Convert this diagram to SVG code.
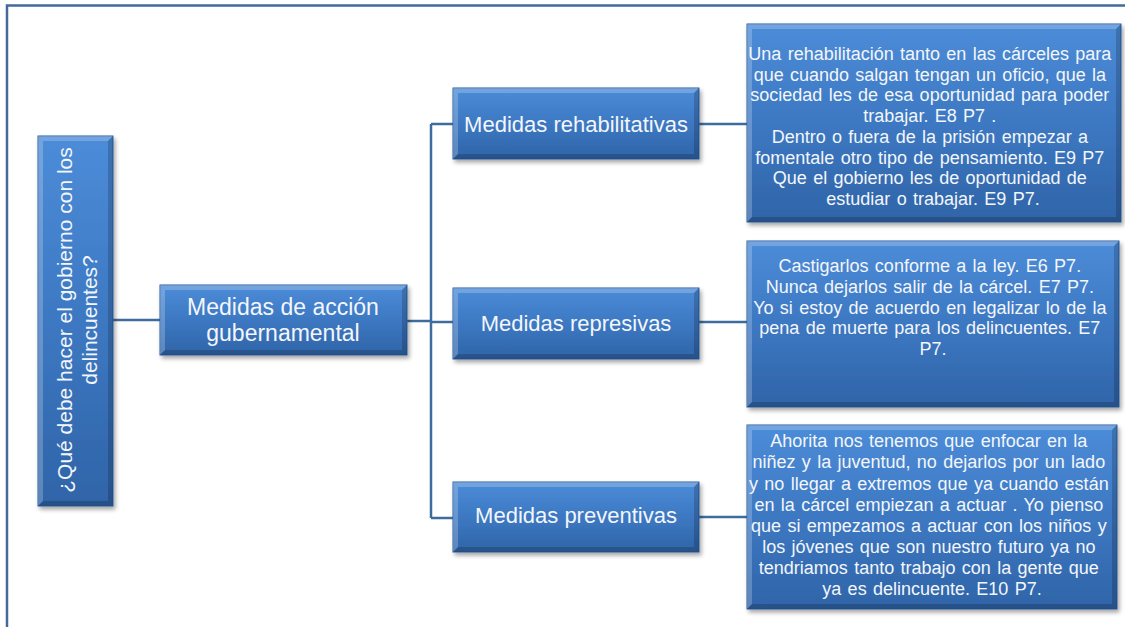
<svg xmlns="http://www.w3.org/2000/svg" width="1125" height="627" viewBox="0 0 1125 627">
<defs>
<linearGradient id="g" x1="0" y1="0" x2="0" y2="1">
<stop offset="0" stop-color="#4c8cd8"/>
<stop offset="0.5" stop-color="#3d78c2"/>
<stop offset="1" stop-color="#2f64a8"/>
</linearGradient>
<filter id="sh" x="-10%" y="-10%" width="125%" height="130%">
<feDropShadow dx="2" dy="3" stdDeviation="2" flood-color="#000" flood-opacity="0.35"/>
</filter>
</defs>
<style>
.box{fill:url(#g);stroke:#2d5f9e;stroke-width:1;filter:url(#sh)}
.bl{fill:#ffffff;fill-opacity:0.22}
.bd{fill:#000000;fill-opacity:0.18}
.t{font-family:"Liberation Sans",Arial,sans-serif;fill:#f3f6fa;text-anchor:middle}
.big{font-size:22px}
.main{font-size:23px}
.root{font-size:21px}
.sm{font-size:18px;word-spacing:1.3px}
.cn{fill:none;stroke:#3f6c9f;stroke-width:2.5}
</style>
<path d="M7,627 V5.5 H1125" fill="none" stroke="#44699a" stroke-width="2.5"/>
<g id="connectors">
<path class="cn" d="M113,320 H160"/>
<path class="cn" d="M407,321 H431"/>
<path class="cn" d="M431,124 V518"/>
<path class="cn" d="M431,124 H453"/>
<path class="cn" d="M431,322 H453"/>
<path class="cn" d="M431,518 H453"/>
<path class="cn" d="M699,124 H747"/>
<path class="cn" d="M699,322 H747"/>
<path class="cn" d="M699,517 H747"/>
</g>
<g id="root">
<rect class="box" x="38" y="136" width="75" height="370"/>
<path class="bl" d="M38,136 H113 L108,141 H43 Z"/>
<path class="bl" d="M38,136 L43,141 V501 L38,506 Z"/>
<path class="bd" d="M38,506 L43,501 H108 L113,506 Z"/>
<path class="bd" d="M113,136 V506 L108,501 V141 Z"/>
<text class="t root" transform="translate(72,320) rotate(-90)"><tspan x="0" y="0">¿Qué debe hacer el gobierno con los</tspan><tspan x="0" y="25">delincuentes?</tspan></text>
</g>
<g id="main">
<rect class="box" x="160" y="285" width="247" height="70"/>
<path class="bl" d="M160,285 H407 L402,290 H165 Z"/>
<path class="bl" d="M160,285 L165,290 V350 L160,355 Z"/>
<path class="bd" d="M160,355 L165,350 H402 L407,355 Z"/>
<path class="bd" d="M407,285 V355 L402,350 V290 Z"/>
<text class="t main"><tspan x="283" y="315">Medidas de acción</tspan><tspan x="283" y="341">gubernamental</tspan></text>
</g>
<g id="rehab">
<rect class="box" x="453" y="88" width="246" height="71"/>
<path class="bl" d="M453,88 H699 L694,93 H458 Z"/>
<path class="bl" d="M453,88 L458,93 V154 L453,159 Z"/>
<path class="bd" d="M453,159 L458,154 H694 L699,159 Z"/>
<path class="bd" d="M699,88 V159 L694,154 V93 Z"/>
<text class="t big" x="576" y="132">Medidas rehabilitativas</text>
</g>
<g id="repr">
<rect class="box" x="453" y="288" width="246" height="71"/>
<path class="bl" d="M453,288 H699 L694,293 H458 Z"/>
<path class="bl" d="M453,288 L458,293 V354 L453,359 Z"/>
<path class="bd" d="M453,359 L458,354 H694 L699,359 Z"/>
<path class="bd" d="M699,288 V359 L694,354 V293 Z"/>
<text class="t big" x="576" y="331">Medidas represivas</text>
</g>
<g id="prev">
<rect class="box" x="453" y="482" width="246" height="70"/>
<path class="bl" d="M453,482 H699 L694,487 H458 Z"/>
<path class="bl" d="M453,482 L458,487 V547 L453,552 Z"/>
<path class="bd" d="M453,552 L458,547 H694 L699,552 Z"/>
<path class="bd" d="M699,482 V552 L694,547 V487 Z"/>
<text class="t big" x="576" y="523">Medidas preventivas</text>
</g>
<g id="leaf1">
<rect class="box" x="747" y="24" width="374" height="198"/>
<path class="bl" d="M747,24 H1121 L1116,29 H752 Z"/>
<path class="bl" d="M747,24 L752,29 V217 L747,222 Z"/>
<path class="bd" d="M747,222 L752,217 H1116 L1121,222 Z"/>
<path class="bd" d="M1121,24 V222 L1116,217 V29 Z"/>
<text class="t sm">
<tspan x="933" y="60">Una rehabilitación tanto en las cárceles para</tspan>
<tspan x="933" y="80.7">que cuando salgan tengan un oficio, que la</tspan>
<tspan x="933" y="101.4">sociedad les de esa oportunidad para poder</tspan>
<tspan x="933" y="122.1">trabajar. E8 P7 .</tspan>
<tspan x="933" y="142.8">Dentro o fuera de la prisión empezar a</tspan>
<tspan x="933" y="163.5">fomentale otro tipo de pensamiento. E9 P7</tspan>
<tspan x="933" y="184.2">Que el gobierno les de oportunidad de</tspan>
<tspan x="933" y="204.9">estudiar o trabajar. E9 P7.</tspan>
</text>
</g>
<g id="leaf2">
<rect class="box" x="747" y="241" width="372" height="166"/>
<path class="bl" d="M747,241 H1119 L1114,246 H752 Z"/>
<path class="bl" d="M747,241 L752,246 V402 L747,407 Z"/>
<path class="bd" d="M747,407 L752,402 H1114 L1119,407 Z"/>
<path class="bd" d="M1119,241 V407 L1114,402 V246 Z"/>
<text class="t sm">
<tspan x="933" y="272.3">Castigarlos conforme a la ley. E6 P7.</tspan>
<tspan x="933" y="293">Nunca dejarlos salir de la cárcel. E7 P7.</tspan>
<tspan x="933" y="313.7">Yo si estoy de acuerdo en legalizar lo de la</tspan>
<tspan x="933" y="334.4">pena de muerte para los delincuentes. E7</tspan>
<tspan x="933" y="355.1">P7.</tspan>
</text>
</g>
<g id="leaf3">
<rect class="box" x="747" y="425" width="370" height="184"/>
<path class="bl" d="M747,425 H1117 L1112,430 H752 Z"/>
<path class="bl" d="M747,425 L752,430 V604 L747,609 Z"/>
<path class="bd" d="M747,609 L752,604 H1112 L1117,609 Z"/>
<path class="bd" d="M1117,425 V609 L1112,604 V430 Z"/>
<text class="t sm">
<tspan x="932" y="447.3">Ahorita nos tenemos que enfocar en la</tspan>
<tspan x="932" y="468.4">niñez y la juventud, no dejarlos por un lado</tspan>
<tspan x="932" y="489.5">y no llegar a extremos que ya cuando están</tspan>
<tspan x="932" y="510.6">en la cárcel empiezan a actuar . Yo pienso</tspan>
<tspan x="932" y="531.7">que si empezamos a actuar con los niños y</tspan>
<tspan x="932" y="552.8">los jóvenes que son nuestro futuro ya no</tspan>
<tspan x="932" y="573.9">tendriamos tanto trabajo con la gente que</tspan>
<tspan x="932" y="595">ya es delincuente. E10 P7.</tspan>
</text>
</g>
</svg>
